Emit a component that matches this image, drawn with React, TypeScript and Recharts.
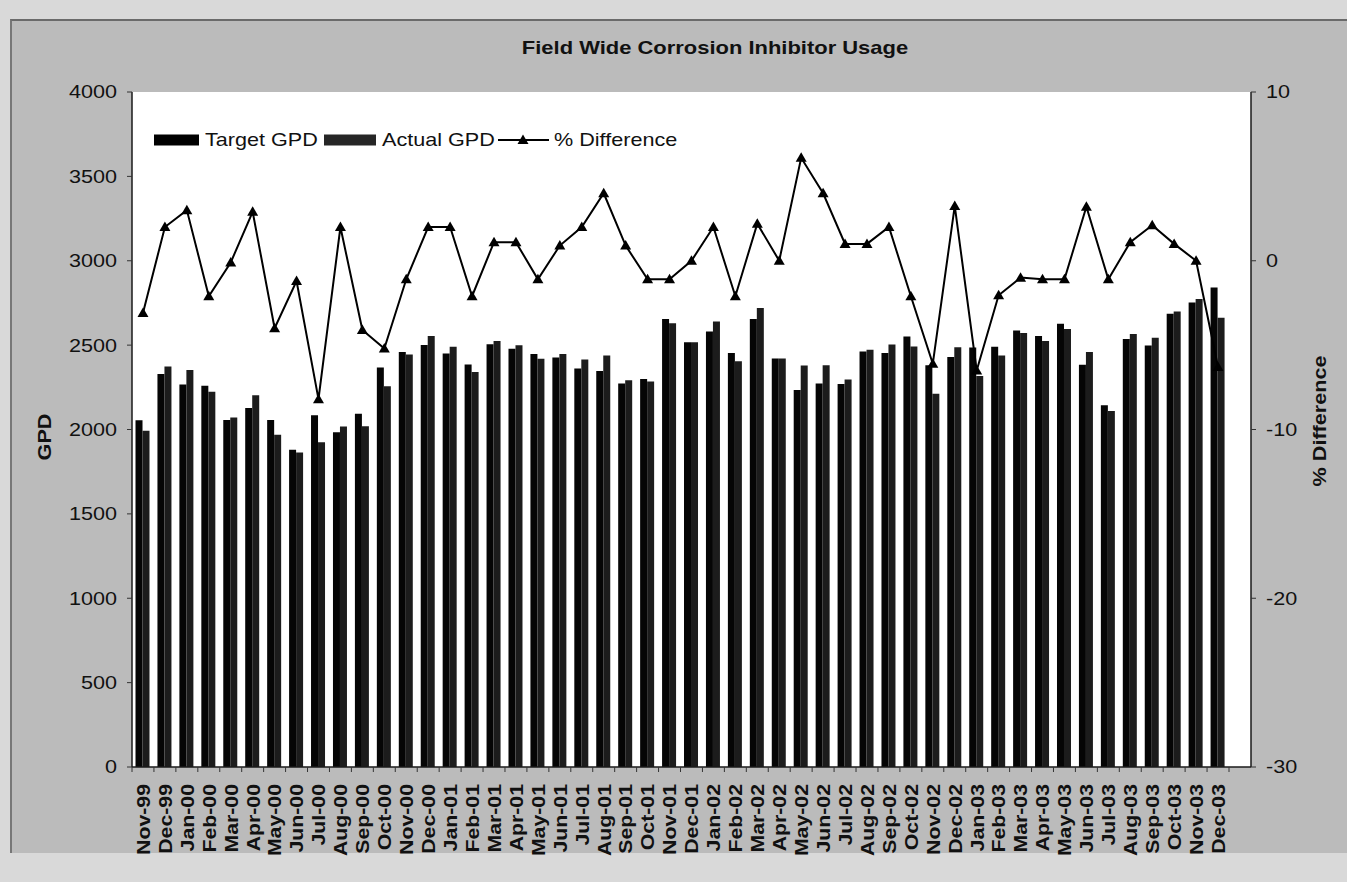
import React from 'react';
import { ComposedChart, Bar, Line, XAxis, YAxis, CartesianGrid, Legend } from 'recharts';

// Monthly corrosion inhibitor usage, Nov-99 through Dec-03
const months = [
  'Nov-99', 'Dec-99',
  'Jan-00', 'Feb-00', 'Mar-00', 'Apr-00', 'May-00', 'Jun-00', 'Jul-00', 'Aug-00', 'Sep-00', 'Oct-00', 'Nov-00', 'Dec-00',
  'Jan-01', 'Feb-01', 'Mar-01', 'Apr-01', 'May-01', 'Jun-01', 'Jul-01', 'Aug-01', 'Sep-01', 'Oct-01', 'Nov-01', 'Dec-01',
  'Jan-02', 'Feb-02', 'Mar-02', 'Apr-02', 'May-02', 'Jun-02', 'Jul-02', 'Aug-02', 'Sep-02', 'Oct-02', 'Nov-02', 'Dec-02',
  'Jan-03', 'Feb-03', 'Mar-03', 'Apr-03', 'May-03', 'Jun-03', 'Jul-03', 'Aug-03', 'Sep-03', 'Oct-03', 'Nov-03', 'Dec-03',
];

// Gallons per day
const targetGpd = [
  2055, 2329,
  2267, 2260, 2057, 2128, 2057, 1880, 2084, 1984, 2094, 2368, 2460, 2501,
  2450, 2385, 2505, 2479, 2448, 2427, 2361, 2346, 2272, 2300, 2655, 2517,
  2581, 2454, 2655, 2421, 2234, 2272, 2270, 2462, 2454, 2551, 2381, 2429,
  2486, 2490, 2586, 2554, 2627, 2384, 2144, 2536, 2498, 2686, 2753, 2841,
];

const actualGpd = [
  1992, 2374,
  2352, 2223, 2071, 2203, 1969, 1864, 1925, 2018, 2020, 2256, 2444, 2554,
  2490, 2341, 2525, 2499, 2419, 2447, 2415, 2438, 2292, 2284, 2629, 2517,
  2640, 2405, 2720, 2421, 2379, 2381, 2296, 2472, 2504, 2492, 2212, 2488,
  2317, 2438, 2572, 2524, 2596, 2460, 2110, 2566, 2544, 2699, 2773, 2662,
];

// Percent difference between actual and target
const pctDifference = [
  -3.1, 2.0,
  3.0, -2.1, -0.1, 2.9, -4.0, -1.2, -8.2, 2.0, -4.1, -5.2, -1.1, 2.0,
  2.0, -2.1, 1.1, 1.1, -1.1, 0.9, 2.0, 4.0, 0.9, -1.1, -1.1, 0.0,
  2.0, -2.1, 2.2, 0.0, 6.1, 4.0, 1.0, 1.0, 2.0, -2.1, -6.1, 3.25,
  -6.5, -2.05, -1.0, -1.1, -1.1, 3.2, -1.1, 1.1, 2.1, 1.0, 0.0, -6.3,
];

const gpdTicks = [0, 500, 1000, 1500, 2000, 2500, 3000, 3500, 4000];
const pctTicks = [-30, -20, -10, 0, 10];

const rows = months.map((m, i) => ({
  m,
  target: targetGpd[i],
  actual: actualGpd[i],
  diff: pctDifference[i],
}));

const FONT = '"Liberation Sans", Arial, Helvetica, sans-serif';
const INK = '#111111';
const HALF_SLOT = 10.97;

const MonthTick = (props: any) => {
  const { x, y, payload, index } = props;
  const last = index === months.length - 1;
  return (
    <g>
      <line x1={x - HALF_SLOT} y1={y} x2={x - HALF_SLOT} y2={y + 5} stroke="#333" strokeWidth={1} />
      {last && <line x1={x + HALF_SLOT} y1={y} x2={x + HALF_SLOT} y2={y + 5} stroke="#333" strokeWidth={1} />}
      <text
        transform={`translate(${x},${y + 17}) rotate(-90) scale(1.12,1)`}
        textAnchor="end"
        dy="0.36em"
        fontFamily={FONT}
        fontWeight="bold"
        fontSize={19}
        fill={INK}
      >
        {payload.value}
      </text>
    </g>
  );
};

const LeftTick = (props: any) => {
  const { x, y, payload } = props;
  return (
    <text
      transform={`translate(${x},${y}) scale(1.2,1)`}
      textAnchor="end"
      dy="0.36em"
      fontFamily={FONT}
      fontSize={18}
      fill={INK}
    >
      {payload.value}
    </text>
  );
};

const RightTick = (props: any) => {
  const { x, y, payload } = props;
  return (
    <text
      transform={`translate(${x},${y}) scale(1.2,1)`}
      textAnchor="start"
      dy="0.36em"
      fontFamily={FONT}
      fontSize={18}
      fill={INK}
    >
      {payload.value}
    </text>
  );
};

const triangle = (cx: number, cy: number) =>
  `M${cx},${cy - 5.5} L${cx + 5.5},${cy + 4} L${cx - 5.5},${cy + 4} Z`;

const TriangleDot = (props: any) => {
  const { cx, cy, index } = props;
  if (cx == null || cy == null) return <g key={`d-${index}`} />;
  return <path key={`d-${index}`} d={triangle(cx, cy)} fill="#000" />;
};

const LegendBox = () => (
  <svg width={560} height={30} style={{ display: 'block' }}>
    <rect x={4} y={8.5} width={45} height={11} fill="#000" />
    <text transform="translate(55,14) scale(1.2,1)" dy="0.36em" fontFamily={FONT} fontSize={18} fill={INK}>
      Target GPD
    </text>
    <rect x={174} y={8.5} width={52} height={11} fill="#262626" />
    <text transform="translate(232,14) scale(1.2,1)" dy="0.36em" fontFamily={FONT} fontSize={18} fill={INK}>
      Actual GPD
    </text>
    <line x1={348} y1={14} x2={399} y2={14} stroke="#000" strokeWidth={2} />
    <path d={triangle(373, 14)} fill="#000" />
    <text transform="translate(404,14) scale(1.2,1)" dy="0.36em" fontFamily={FONT} fontSize={18} fill={INK}>
      % Difference
    </text>
  </svg>
);

export default function App() {
  return (
    <div style={{ position: 'absolute', left: 0, top: 0, width: 1347, height: 882, background: '#d9d9d9', overflow: 'hidden' }}>
      <div
        style={{
          position: 'absolute',
          left: 10,
          top: 19,
          width: 1345,
          height: 832,
          background: '#bbbbbb',
          borderTop: '2px solid #6a6a6a',
          borderLeft: '2px solid #777777',
        }}
      />
      <div style={{ position: 'absolute', left: 0, top: 0 }}>
        <ComposedChart
          width={1347}
          height={882}
          data={rows}
          margin={{ top: 92, right: 0, bottom: 0, left: 0 }}
          barGap={0}
          barCategoryGap="16%"
        >
          <CartesianGrid fill="#ffffff" stroke="none" horizontal={false} vertical={false} />
          <XAxis
            dataKey="m"
            interval={0}
            height={115}
            tick={<MonthTick />}
            tickLine={false}
            tickSize={0}
            tickMargin={0}
            padding={{ left: 0, right: 22 }}
            axisLine={{ stroke: '#1a1a1a', strokeWidth: 1.5 }}
          />
          <XAxis
            xAxisId="top"
            orientation="top"
            dataKey="m"
            height={0}
            tick={false}
            tickLine={false}
            axisLine={{ stroke: '#333', strokeWidth: 1.5 }}
          />
          <YAxis
            yAxisId="gpd"
            domain={[0, 4000]}
            ticks={gpdTicks}
            width={132}
            tick={<LeftTick />}
            tickSize={5}
            tickMargin={10}
            tickLine={{ stroke: '#333' }}
            axisLine={{ stroke: '#1a1a1a', strokeWidth: 1.5 }}
            allowDataOverflow
          />
          <YAxis
            yAxisId="pct"
            orientation="right"
            domain={[-30, 10]}
            ticks={pctTicks}
            width={96}
            tick={<RightTick />}
            tickSize={5}
            tickMargin={10}
            tickLine={{ stroke: '#333' }}
            axisLine={{ stroke: '#1a1a1a', strokeWidth: 1.5 }}
            allowDataOverflow
          />
          <Bar yAxisId="gpd" dataKey="target" name="Target GPD" fill="#050505" isAnimationActive={false} />
          <Bar yAxisId="gpd" dataKey="actual" name="Actual GPD" fill="#1c1c1c" isAnimationActive={false} />
          <Line
            yAxisId="pct"
            dataKey="diff"
            name="% Difference"
            stroke="#000"
            strokeWidth={2}
            dot={(p: any) => <TriangleDot {...p} key={`dot-${p.index}`} />}
            activeDot={false}
            isAnimationActive={false}
          />
          <Legend
            layout="horizontal"
            verticalAlign="middle"
            align="center"
            content={() => <LegendBox />}
            wrapperStyle={{ left: 150, top: 126, width: 560, height: 30 }}
          />
        </ComposedChart>
      </div>
      <svg width={1347} height={882} style={{ position: 'absolute', left: 0, top: 0, pointerEvents: 'none' }}>
        <text
          transform="translate(715,48) scale(1.22,1)"
          textAnchor="middle"
          dy="0.36em"
          fontFamily={FONT}
          fontWeight="bold"
          fontSize={18}
          fill={INK}
        >
          Field Wide Corrosion Inhibitor Usage
        </text>
        <text
          transform="translate(45,437) rotate(-90) scale(1.2,1)"
          textAnchor="middle"
          dy="0.36em"
          fontFamily={FONT}
          fontWeight="bold"
          fontSize={18}
          fill={INK}
        >
          GPD
        </text>
        <text
          transform="translate(1320,421) rotate(-90) scale(1.2,1)"
          textAnchor="middle"
          dy="0.36em"
          fontFamily={FONT}
          fontWeight="bold"
          fontSize={18}
          fill={INK}
        >
          % Difference
        </text>
      </svg>
    </div>
  );
}
